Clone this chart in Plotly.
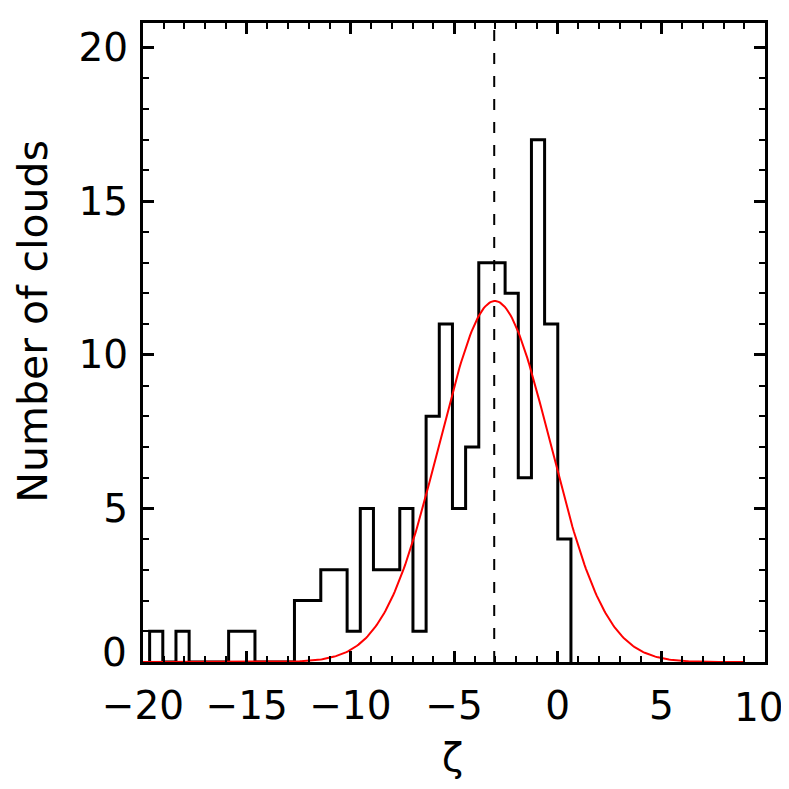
import numpy as np
import plotly.graph_objects as go

# Histogram: bin edges start and width, counts per bin
bin_start = -19.68
bin_width = 0.635
counts = [1, 0, 1, 0, 0, 0, 1, 1, 0, 0, 0, 2, 2, 3, 3, 1,
          5, 3, 3, 5, 1, 8, 11, 5, 7, 13, 13, 12, 6, 17, 11, 4]

# Gaussian fit parameters
gauss_amp = 11.75
gauss_mean = -3.03
gauss_sigma = 2.67
gauss_xmin = -20.0
gauss_xmax = 9.0

# Vertical dashed marker (mean)
mean_line_x = -3.06

x_range = [-20, 10]
y_range = [0, 20.8]
x_tickvals = [-20, -15, -10, -5, 0, 5, 10]
x_ticktext = ["\u221220", "\u221215", "\u221210", "\u22125", "0", "5", "10"]
y_tickvals = [0, 5, 10, 15, 20]
y_ticktext = ["0", "5", "10", "15", "20"]
x_title = "ζ"
y_title = "Number of clouds"

# Build step outline from the bins
edges = [bin_start + i * bin_width for i in range(len(counts) + 1)]
step_x = [edges[0]] + edges
step_y = [0] + counts + [0]

gx = np.linspace(gauss_xmin, gauss_xmax, 400)
gy = gauss_amp * np.exp(-0.5 * ((gx - gauss_mean) / gauss_sigma) ** 2)

font_family = "DejaVu Sans"
fsize = 39

fig = go.Figure()
fig.add_trace(go.Scatter(x=step_x, y=step_y, mode="lines",
                         line=dict(color="black", width=3, shape="hv"),
                         showlegend=False, hoverinfo="skip"))
fig.add_trace(go.Scatter(x=[mean_line_x, mean_line_x], y=y_range, mode="lines",
                         line=dict(color="black", width=2, dash="11px,12px"),
                         showlegend=False, hoverinfo="skip"))
fig.add_trace(go.Scatter(x=gx, y=gy, mode="lines",
                         line=dict(color="#ff0000", width=2),
                         showlegend=False, hoverinfo="skip"))

axis_common = dict(
    showline=True, linewidth=3, linecolor="black", mirror="allticks",
    ticks="inside", ticklen=11, tickwidth=2.5, tickcolor="black",
    showgrid=False, zeroline=False, automargin=False,
    ticklabeloverflow="allow",
    tickfont=dict(family=font_family, size=fsize, color="black"),
    minor=dict(ticks="inside", ticklen=6, tickwidth=2, tickcolor="black", dtick=1, showgrid=False),
)

# Last x label ("10") and first y label ("0") are drawn as annotations so they
# can sit exactly where the reference puts them (inside the page, above the corner)
fig.update_xaxes(range=x_range, tickvals=x_tickvals,
                 ticktext=x_ticktext[:-1] + [""], ticklabelstandoff=7, **axis_common)
fig.update_yaxes(range=y_range, tickvals=y_tickvals,
                 ticktext=[""] + y_ticktext[1:], ticklabelstandoff=4, **axis_common)

fig.add_annotation(x=-0.022, y=0.32, xref="paper", yref="y", text=y_ticktext[0], showarrow=False,
                   xanchor="right", yanchor="middle",
                   font=dict(family=font_family, size=fsize, color="black"))
fig.add_annotation(x=1.033, y=-0.0705, xref="paper", yref="paper", text=x_ticktext[-1], showarrow=False,
                   xanchor="right", yanchor="middle",
                   font=dict(family=font_family, size=fsize, color="black"))
fig.add_annotation(x=-0.177, y=0.534, xref="paper", yref="paper", text=y_title,
                   showarrow=False, textangle=-90, xanchor="center", yanchor="middle",
                   font=dict(family=font_family, size=fsize + 2, color="black"))
fig.add_annotation(x=0.497, y=-0.149, xref="paper", yref="paper", text=x_title,
                   showarrow=False, xanchor="center", yanchor="middle",
                   font=dict(family=font_family, size=fsize, color="black"))

# The page body has an 8px margin, so the figure is sized/offset to compensate
fig.update_layout(
    width=781, height=781, autosize=False,
    margin=dict(l=135, r=24, t=15, b=127),
    paper_bgcolor="white", plot_bgcolor="white",
)

fig.write_html("out.html")
